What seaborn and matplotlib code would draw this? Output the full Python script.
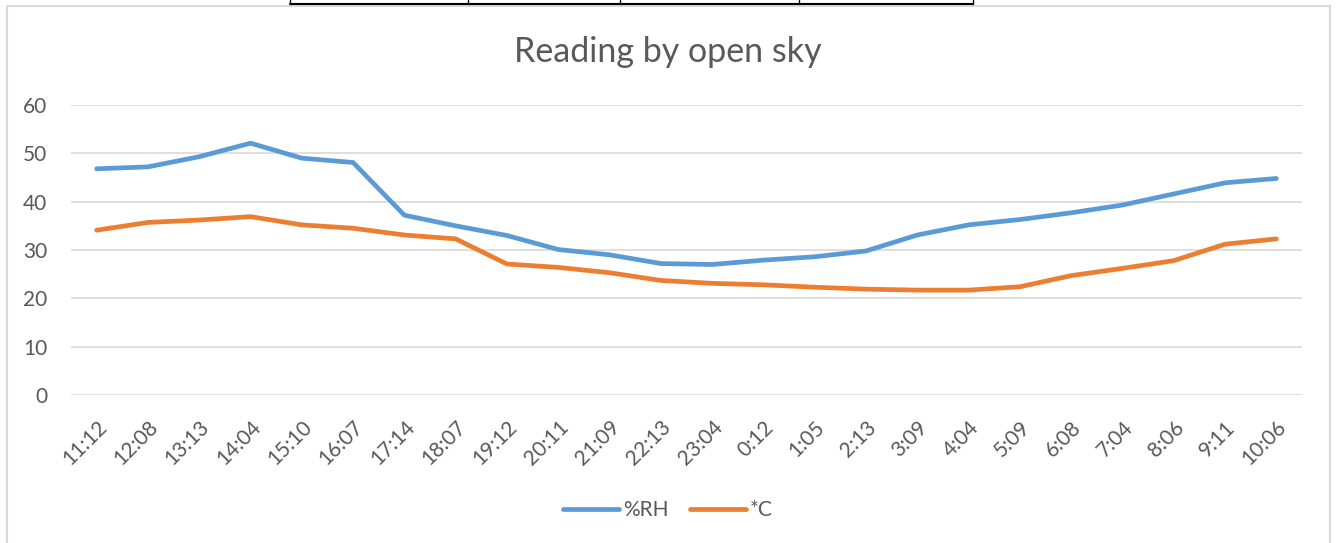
import matplotlib
matplotlib.use("Agg")
import matplotlib.pyplot as plt
import pandas as pd
import seaborn as sns
from matplotlib.lines import Line2D
from matplotlib.patches import Rectangle

times = ["11:12", "12:08", "13:13", "14:04", "15:10", "16:07", "17:14", "18:07",
         "19:12", "20:11", "21:09", "22:13", "23:04", "0:12", "1:05", "2:13",
         "3:09", "4:04", "5:09", "6:08", "7:04", "8:06", "9:11", "10:06"]
rh = [46.8, 47.2, 49.3, 52.1, 49.0, 48.1, 37.2, 35.0,
      33.0, 30.1, 29.0, 27.2, 27.0, 27.9, 28.6, 29.8,
      33.1, 35.2, 36.3, 37.7, 39.3, 41.6, 43.9, 44.8]
temp_c = [34.1, 35.7, 36.2, 36.9, 35.2, 34.5, 33.1, 32.3,
          27.1, 26.4, 25.3, 23.7, 23.1, 22.8, 22.3, 21.9,
          21.7, 21.7, 22.4, 24.7, 26.2, 27.8, 31.2, 32.3]
series_names = ["%RH", "*C"]
colors = ["#5B9BD5", "#ED7D31"]

df = pd.concat([
    pd.DataFrame({"pos": range(len(times)), "value": rh, "series": series_names[0]}),
    pd.DataFrame({"pos": range(len(times)), "value": temp_c, "series": series_names[1]}),
])

sns.set_theme(style="white")
plt.rcParams["font.family"] = ["Lato", "DejaVu Sans"]
text_color = "#595959"

fig = plt.figure(figsize=(13.36, 5.43), dpi=100)
ax = fig.add_axes([71 / 1336, 1 - 395 / 543, (1302 - 71) / 1336, (395 - 105) / 543])

sns.lineplot(data=df, x="pos", y="value", hue="series", palette=colors,
             linewidth=3.4, sort=False, ax=ax, legend=False,
             solid_capstyle="round", solid_joinstyle="round")

ax.set_xlim(-0.5, len(times) - 0.5)
ax.set_ylim(0, 60)
ax.set_yticks(range(0, 61, 10))
ax.set_xticks(range(len(times)))
ax.set_xticklabels(times, rotation=45, ha="right", rotation_mode="anchor")
ax.tick_params(axis="x", colors=text_color, labelsize=15, length=0, pad=16)
ax.tick_params(axis="y", colors=text_color, labelsize=15, length=0, pad=17)
ax.yaxis.grid(True, color="#d9d9d9", linewidth=1.2)
ax.set_axisbelow(True)
for s in ax.spines.values():
    s.set_visible(False)
ax.set_xlabel("")
ax.set_ylabel("")

fig.text(0.5, 1 - 52 / 543, "Reading by open sky", ha="center", va="center",
         fontsize=24.5, color=text_color)

handles = [Line2D([0], [0], color=c, linewidth=3.4, solid_capstyle="round") for c in colors]
fig.legend(handles, series_names, loc="center", bbox_to_anchor=(0.5, 1 - 510 / 543),
           ncol=2, frameon=False, fontsize=15, labelcolor=text_color,
           handlelength=2.7, columnspacing=1.0, handletextpad=0.2)

# chart border and the table edge above it
fig.add_artist(Rectangle((7 / 1336, -0.05), (1330 - 7) / 1336, 1.05 - 6 / 543,
                         transform=fig.transFigure, fill=False,
                         edgecolor="#d9d9d9", linewidth=1.5))
y_tab = 1 - 4 / 543
fig.add_artist(Line2D([290 / 1336, 973 / 1336], [y_tab, y_tab],
                      transform=fig.transFigure, color="black", linewidth=1.5))
for xv in [290, 468, 620, 799, 973]:
    fig.add_artist(Line2D([xv / 1336, xv / 1336], [y_tab, 1.0],
                          transform=fig.transFigure, color="black", linewidth=1))

fig.savefig("out.png", dpi=100)
